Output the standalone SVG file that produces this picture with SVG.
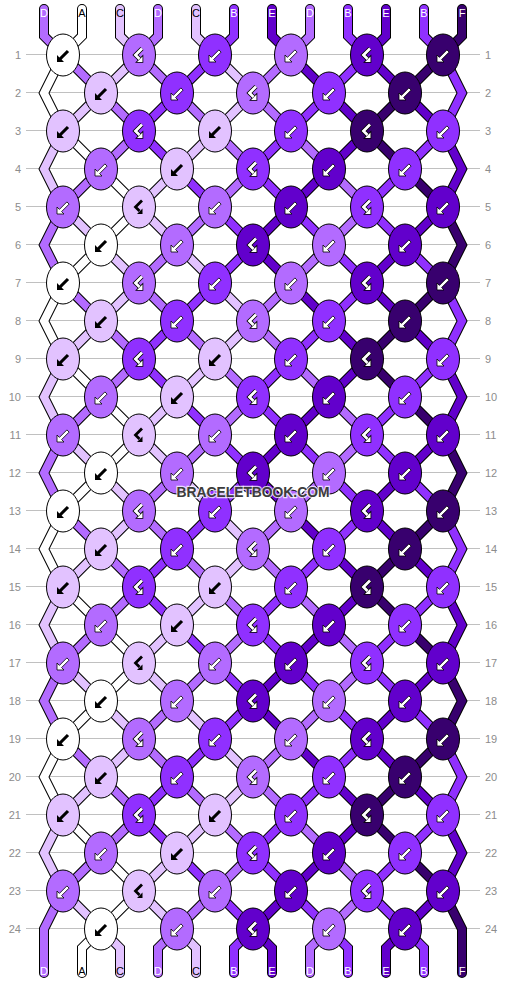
<svg xmlns="http://www.w3.org/2000/svg" xmlns:xlink="http://www.w3.org/1999/xlink" width="506" height="984" viewBox="0 0 506 984">
<style>
.cA{fill:#ffffff}.cC{fill:#e2c2ff}.cD{fill:#b36bff}.cB{fill:#9030ff}.cE{fill:#6200cc}.cF{fill:#38006e}
.sA{stroke:#ffffff}.sC{stroke:#e2c2ff}.sD{stroke:#b36bff}.sB{stroke:#9030ff}.sE{stroke:#6200cc}.sF{stroke:#38006e}
ellipse{stroke:#000;stroke-width:1}
#knots ellipse{rx:16.5px;ry:21px}
.grid line{stroke:#c0c0c0;stroke-width:1}
.rn{font-family:"Liberation Sans",Arial,sans-serif;font-size:11px;fill:#8c8c8c}
.lb{font-family:"Liberation Sans",Arial,sans-serif;font-size:11px;text-anchor:middle}
.out{fill:none;stroke:#000;stroke-width:10;stroke-linecap:round;stroke-linejoin:miter}
.fil{fill:none;stroke-width:8;stroke-linecap:round;stroke-linejoin:miter}
</style>
<defs>
<path id="p0" d="M44,9V36L63,55l38,38l38,38l-38,38l-38,38l-19,38l19,38l38,38l38,38l-38,38l-38,38l-19,38l19,38l38,38l38,38l-38,38l-38,38l-19,38l19,38l38,38l38,38l-38,38l-38,38l-19,38L44,948V973"/>
<path id="p1" d="M82,9V36L63,55l-19,38l19,38l38,38l38,38l-38,38l-38,38l-19,38l19,38l38,38l38,38l-38,38l-38,38l-19,38l19,38l38,38l38,38l-38,38l-38,38l-19,38l19,38l38,38l38,38l-38,38L82,948V973"/>
<path id="p2" d="M120,9V36L139,55l-38,38l-38,38l-19,38l19,38l38,38l38,38l-38,38l-38,38l-19,38l19,38l38,38l38,38l-38,38l-38,38l-19,38l19,38l38,38l38,38l-38,38l-38,38l-19,38l19,38l38,38L120,948V973"/>
<path id="p3" d="M158,9V36L139,55l38,38l38,38l38,38l-38,38l-38,38l-38,38l38,38l38,38l38,38l-38,38l-38,38l-38,38l38,38l38,38l38,38l-38,38l-38,38l-38,38l38,38l38,38l38,38l-38,38l-38,38L158,948V973"/>
<path id="p4" d="M196,9V36L215,55l38,38l-38,38l-38,38l-38,38l38,38l38,38l38,38l-38,38l-38,38l-38,38l38,38l38,38l38,38l-38,38l-38,38l-38,38l38,38l38,38l38,38l-38,38l-38,38l-38,38l38,38L196,948V973"/>
<path id="p5" d="M234,9V36L215,55l-38,38l-38,38l38,38l38,38l38,38l-38,38l-38,38l-38,38l38,38l38,38l38,38l-38,38l-38,38l-38,38l38,38l38,38l38,38l-38,38l-38,38l-38,38l38,38l38,38l38,38L234,948V973"/>
<path id="p6" d="M272,9V36L291,55l38,38l38,38l-38,38l-38,38l-38,38l38,38l38,38l38,38l-38,38l-38,38l-38,38l38,38l38,38l38,38l-38,38l-38,38l-38,38l38,38l38,38l38,38l-38,38l-38,38l-38,38L272,948V973"/>
<path id="p7" d="M310,9V36L291,55l-38,38l38,38l38,38l38,38l-38,38l-38,38l-38,38l38,38l38,38l38,38l-38,38l-38,38l-38,38l38,38l38,38l38,38l-38,38l-38,38l-38,38l38,38l38,38l38,38l-38,38L310,948V973"/>
<path id="p8" d="M348,9V36L367,55l-38,38l-38,38l-38,38l38,38l38,38l38,38l-38,38l-38,38l-38,38l38,38l38,38l38,38l-38,38l-38,38l-38,38l38,38l38,38l38,38l-38,38l-38,38l-38,38l38,38l38,38L348,948V973"/>
<path id="p9" d="M386,9V36L367,55l38,38l38,38l19,38l-19,38l-38,38l-38,38l38,38l38,38l19,38l-19,38l-38,38l-38,38l38,38l38,38l19,38l-19,38l-38,38l-38,38l38,38l38,38l19,38l-19,38l-38,38L386,948V973"/>
<path id="p10" d="M424,9V36L443,55l19,38l-19,38l-38,38l-38,38l38,38l38,38l19,38l-19,38l-38,38l-38,38l38,38l38,38l19,38l-19,38l-38,38l-38,38l38,38l38,38l19,38l-19,38l-38,38l-38,38l38,38L424,948V973"/>
<path id="p11" d="M462,9V36L443,55l-38,38l-38,38l38,38l38,38l19,38l-19,38l-38,38l-38,38l38,38l38,38l19,38l-19,38l-38,38l-38,38l38,38l38,38l19,38l-19,38l-38,38l-38,38l38,38l38,38l19,38L462,948V973"/>
<polygon id="sb" points="-6,7 -6,0 -3.6,2.4 3.9,-5.1 6.1,-2.9 -1.4,4.6 1,7" fill="#000"/>
<polygon id="sw" points="-6,7 -6,0 -3.6,2.4 3.9,-5.1 6.1,-2.9 -1.4,4.6 1,7" fill="#fff" stroke="#000" stroke-width="0.8"/>
<g id="hb">
<path d="M3,-6.5L-3.5,0L0.5,4" fill="none" stroke="#000" stroke-width="2.8" stroke-linejoin="miter"/>
<polygon points="3.5,7 3.5,1.5 -2,7" fill="#000"/>
</g>
<g id="hw">
<path d="M3,-6.5L-3.5,0L0.5,4" fill="none" stroke="#000" stroke-width="4.4" stroke-linejoin="miter"/>
<polygon points="3.5,7 3.5,1.5 -2,7" fill="#000" stroke="#000" stroke-width="1.6"/>
<path d="M3,-6.5L-3.5,0L0.5,4" fill="none" stroke="#fff" stroke-width="2.8" stroke-linejoin="miter"/>
<polygon points="3.5,7 3.5,1.5 -2,7" fill="#fff"/>
</g>
</defs>
<rect width="506" height="984" fill="#fff"/>
<g class="grid">
<line x1="26" x2="480" y1="54.5" y2="54.5"/><line x1="26" x2="480" y1="92.5" y2="92.5"/><line x1="26" x2="480" y1="130.5" y2="130.5"/><line x1="26" x2="480" y1="168.5" y2="168.5"/><line x1="26" x2="480" y1="206.5" y2="206.5"/><line x1="26" x2="480" y1="244.5" y2="244.5"/><line x1="26" x2="480" y1="282.5" y2="282.5"/><line x1="26" x2="480" y1="320.5" y2="320.5"/><line x1="26" x2="480" y1="358.5" y2="358.5"/><line x1="26" x2="480" y1="396.5" y2="396.5"/><line x1="26" x2="480" y1="434.5" y2="434.5"/><line x1="26" x2="480" y1="472.5" y2="472.5"/><line x1="26" x2="480" y1="510.5" y2="510.5"/><line x1="26" x2="480" y1="548.5" y2="548.5"/><line x1="26" x2="480" y1="586.5" y2="586.5"/><line x1="26" x2="480" y1="624.5" y2="624.5"/><line x1="26" x2="480" y1="662.5" y2="662.5"/><line x1="26" x2="480" y1="700.5" y2="700.5"/><line x1="26" x2="480" y1="738.5" y2="738.5"/><line x1="26" x2="480" y1="776.5" y2="776.5"/><line x1="26" x2="480" y1="814.5" y2="814.5"/><line x1="26" x2="480" y1="852.5" y2="852.5"/><line x1="26" x2="480" y1="890.5" y2="890.5"/><line x1="26" x2="480" y1="928.5" y2="928.5"/>
</g>
<g id="row-numbers">
<text class="rn" text-anchor="end" x="21" y="58.5">1</text><text class="rn" text-anchor="end" x="21" y="96.5">2</text><text class="rn" text-anchor="end" x="21" y="134.5">3</text><text class="rn" text-anchor="end" x="21" y="172.5">4</text><text class="rn" text-anchor="end" x="21" y="210.5">5</text><text class="rn" text-anchor="end" x="21" y="248.5">6</text><text class="rn" text-anchor="end" x="21" y="286.5">7</text><text class="rn" text-anchor="end" x="21" y="324.5">8</text><text class="rn" text-anchor="end" x="21" y="362.5">9</text><text class="rn" text-anchor="end" x="21" y="400.5">10</text><text class="rn" text-anchor="end" x="21" y="438.5">11</text><text class="rn" text-anchor="end" x="21" y="476.5">12</text><text class="rn" text-anchor="end" x="21" y="514.5">13</text><text class="rn" text-anchor="end" x="21" y="552.5">14</text><text class="rn" text-anchor="end" x="21" y="590.5">15</text><text class="rn" text-anchor="end" x="21" y="628.5">16</text><text class="rn" text-anchor="end" x="21" y="666.5">17</text><text class="rn" text-anchor="end" x="21" y="704.5">18</text><text class="rn" text-anchor="end" x="21" y="742.5">19</text><text class="rn" text-anchor="end" x="21" y="780.5">20</text><text class="rn" text-anchor="end" x="21" y="818.5">21</text><text class="rn" text-anchor="end" x="21" y="856.5">22</text><text class="rn" text-anchor="end" x="21" y="894.5">23</text><text class="rn" text-anchor="end" x="21" y="932.5">24</text>
<text class="rn" x="485" y="58.5">1</text><text class="rn" x="485" y="96.5">2</text><text class="rn" x="485" y="134.5">3</text><text class="rn" x="485" y="172.5">4</text><text class="rn" x="485" y="210.5">5</text><text class="rn" x="485" y="248.5">6</text><text class="rn" x="485" y="286.5">7</text><text class="rn" x="485" y="324.5">8</text><text class="rn" x="485" y="362.5">9</text><text class="rn" x="485" y="400.5">10</text><text class="rn" x="485" y="438.5">11</text><text class="rn" x="485" y="476.5">12</text><text class="rn" x="485" y="514.5">13</text><text class="rn" x="485" y="552.5">14</text><text class="rn" x="485" y="590.5">15</text><text class="rn" x="485" y="628.5">16</text><text class="rn" x="485" y="666.5">17</text><text class="rn" x="485" y="704.5">18</text><text class="rn" x="485" y="742.5">19</text><text class="rn" x="485" y="780.5">20</text><text class="rn" x="485" y="818.5">21</text><text class="rn" x="485" y="856.5">22</text><text class="rn" x="485" y="894.5">23</text><text class="rn" x="485" y="932.5">24</text>
</g>
<g id="connectors">
<g class="out">
<use href="#p0"/><use href="#p1"/><use href="#p2"/><use href="#p3"/><use href="#p4"/><use href="#p5"/><use href="#p6"/><use href="#p7"/><use href="#p8"/><use href="#p9"/><use href="#p10"/><use href="#p11"/>
</g>
<g class="fil">
<use href="#p0" class="sD"/><use href="#p1" class="sA"/><use href="#p2" class="sC"/><use href="#p3" class="sD"/><use href="#p4" class="sC"/><use href="#p5" class="sB"/><use href="#p6" class="sE"/><use href="#p7" class="sD"/><use href="#p8" class="sB"/><use href="#p9" class="sE"/><use href="#p10" class="sB"/><use href="#p11" class="sF"/>
</g>
</g>
<g id="string-labels">
<text class="lb" x="44" y="17" fill="#fff">D</text><text class="lb" x="82" y="17" fill="#000">A</text><text class="lb" x="120" y="17" fill="#000">C</text><text class="lb" x="158" y="17" fill="#fff">D</text><text class="lb" x="196" y="17" fill="#000">C</text><text class="lb" x="234" y="17" fill="#fff">B</text><text class="lb" x="272" y="17" fill="#fff">E</text><text class="lb" x="310" y="17" fill="#fff">D</text><text class="lb" x="348" y="17" fill="#fff">B</text><text class="lb" x="386" y="17" fill="#fff">E</text><text class="lb" x="424" y="17" fill="#fff">B</text><text class="lb" x="462" y="17" fill="#fff">F</text>
<text class="lb" x="44" y="975" fill="#fff">D</text><text class="lb" x="82" y="975" fill="#000">A</text><text class="lb" x="120" y="975" fill="#000">C</text><text class="lb" x="158" y="975" fill="#fff">D</text><text class="lb" x="196" y="975" fill="#000">C</text><text class="lb" x="234" y="975" fill="#fff">B</text><text class="lb" x="272" y="975" fill="#fff">E</text><text class="lb" x="310" y="975" fill="#fff">D</text><text class="lb" x="348" y="975" fill="#fff">B</text><text class="lb" x="386" y="975" fill="#fff">E</text><text class="lb" x="424" y="975" fill="#fff">B</text><text class="lb" x="462" y="975" fill="#fff">F</text>
</g>
<g id="knots">
<g id="k1-1"><ellipse class="cA" cx="63" cy="55"/><use href="#sb" x="63" y="55"/></g>
<g id="k1-2"><ellipse class="cD" cx="139" cy="55"/><use href="#hw" x="139" y="55"/></g>
<g id="k1-3"><ellipse class="cB" cx="215" cy="55"/><use href="#sw" x="215" y="55"/></g>
<g id="k1-4"><ellipse class="cD" cx="291" cy="55"/><use href="#sw" x="291" y="55"/></g>
<g id="k1-5"><ellipse class="cE" cx="367" cy="55"/><use href="#hw" x="367" y="55"/></g>
<g id="k1-6"><ellipse class="cF" cx="443" cy="55"/><use href="#sw" x="443" y="55"/></g>
<g id="k2-1"><ellipse class="cC" cx="101" cy="93"/><use href="#sb" x="101" y="93"/></g>
<g id="k2-2"><ellipse class="cB" cx="177" cy="93"/><use href="#sw" x="177" y="93"/></g>
<g id="k2-3"><ellipse class="cD" cx="253" cy="93"/><use href="#hw" x="253" y="93"/></g>
<g id="k2-4"><ellipse class="cB" cx="329" cy="93"/><use href="#sw" x="329" y="93"/></g>
<g id="k2-5"><ellipse class="cF" cx="405" cy="93"/><use href="#sw" x="405" y="93"/></g>
<g id="k3-1"><ellipse class="cC" cx="63" cy="131"/><use href="#sb" x="63" y="131"/></g>
<g id="k3-2"><ellipse class="cB" cx="139" cy="131"/><use href="#hw" x="139" y="131"/></g>
<g id="k3-3"><ellipse class="cC" cx="215" cy="131"/><use href="#sb" x="215" y="131"/></g>
<g id="k3-4"><ellipse class="cB" cx="291" cy="131"/><use href="#sw" x="291" y="131"/></g>
<g id="k3-5"><ellipse class="cF" cx="367" cy="131"/><use href="#hw" x="367" y="131"/></g>
<g id="k3-6"><ellipse class="cB" cx="443" cy="131"/><use href="#sw" x="443" y="131"/></g>
<g id="k4-1"><ellipse class="cD" cx="101" cy="169"/><use href="#sw" x="101" y="169"/></g>
<g id="k4-2"><ellipse class="cC" cx="177" cy="169"/><use href="#sb" x="177" y="169"/></g>
<g id="k4-3"><ellipse class="cB" cx="253" cy="169"/><use href="#hw" x="253" y="169"/></g>
<g id="k4-4"><ellipse class="cE" cx="329" cy="169"/><use href="#sw" x="329" y="169"/></g>
<g id="k4-5"><ellipse class="cB" cx="405" cy="169"/><use href="#sw" x="405" y="169"/></g>
<g id="k5-1"><ellipse class="cD" cx="63" cy="207"/><use href="#sw" x="63" y="207"/></g>
<g id="k5-2"><ellipse class="cC" cx="139" cy="207"/><use href="#hb" x="139" y="207"/></g>
<g id="k5-3"><ellipse class="cD" cx="215" cy="207"/><use href="#sw" x="215" y="207"/></g>
<g id="k5-4"><ellipse class="cE" cx="291" cy="207"/><use href="#sw" x="291" y="207"/></g>
<g id="k5-5"><ellipse class="cB" cx="367" cy="207"/><use href="#hw" x="367" y="207"/></g>
<g id="k5-6"><ellipse class="cE" cx="443" cy="207"/><use href="#sw" x="443" y="207"/></g>
<g id="k6-1"><ellipse class="cA" cx="101" cy="245"/><use href="#sb" x="101" y="245"/></g>
<g id="k6-2"><ellipse class="cD" cx="177" cy="245"/><use href="#sw" x="177" y="245"/></g>
<g id="k6-3"><ellipse class="cE" cx="253" cy="245"/><use href="#hw" x="253" y="245"/></g>
<g id="k6-4"><ellipse class="cD" cx="329" cy="245"/><use href="#sw" x="329" y="245"/></g>
<g id="k6-5"><ellipse class="cE" cx="405" cy="245"/><use href="#sw" x="405" y="245"/></g>
<g id="k7-1"><ellipse class="cA" cx="63" cy="283"/><use href="#sb" x="63" y="283"/></g>
<g id="k7-2"><ellipse class="cD" cx="139" cy="283"/><use href="#hw" x="139" y="283"/></g>
<g id="k7-3"><ellipse class="cB" cx="215" cy="283"/><use href="#sw" x="215" y="283"/></g>
<g id="k7-4"><ellipse class="cD" cx="291" cy="283"/><use href="#sw" x="291" y="283"/></g>
<g id="k7-5"><ellipse class="cE" cx="367" cy="283"/><use href="#hw" x="367" y="283"/></g>
<g id="k7-6"><ellipse class="cF" cx="443" cy="283"/><use href="#sw" x="443" y="283"/></g>
<g id="k8-1"><ellipse class="cC" cx="101" cy="321"/><use href="#sb" x="101" y="321"/></g>
<g id="k8-2"><ellipse class="cB" cx="177" cy="321"/><use href="#sw" x="177" y="321"/></g>
<g id="k8-3"><ellipse class="cD" cx="253" cy="321"/><use href="#hw" x="253" y="321"/></g>
<g id="k8-4"><ellipse class="cB" cx="329" cy="321"/><use href="#sw" x="329" y="321"/></g>
<g id="k8-5"><ellipse class="cF" cx="405" cy="321"/><use href="#sw" x="405" y="321"/></g>
<g id="k9-1"><ellipse class="cC" cx="63" cy="359"/><use href="#sb" x="63" y="359"/></g>
<g id="k9-2"><ellipse class="cB" cx="139" cy="359"/><use href="#hw" x="139" y="359"/></g>
<g id="k9-3"><ellipse class="cC" cx="215" cy="359"/><use href="#sb" x="215" y="359"/></g>
<g id="k9-4"><ellipse class="cB" cx="291" cy="359"/><use href="#sw" x="291" y="359"/></g>
<g id="k9-5"><ellipse class="cF" cx="367" cy="359"/><use href="#hw" x="367" y="359"/></g>
<g id="k9-6"><ellipse class="cB" cx="443" cy="359"/><use href="#sw" x="443" y="359"/></g>
<g id="k10-1"><ellipse class="cD" cx="101" cy="397"/><use href="#sw" x="101" y="397"/></g>
<g id="k10-2"><ellipse class="cC" cx="177" cy="397"/><use href="#sb" x="177" y="397"/></g>
<g id="k10-3"><ellipse class="cB" cx="253" cy="397"/><use href="#hw" x="253" y="397"/></g>
<g id="k10-4"><ellipse class="cE" cx="329" cy="397"/><use href="#sw" x="329" y="397"/></g>
<g id="k10-5"><ellipse class="cB" cx="405" cy="397"/><use href="#sw" x="405" y="397"/></g>
<g id="k11-1"><ellipse class="cD" cx="63" cy="435"/><use href="#sw" x="63" y="435"/></g>
<g id="k11-2"><ellipse class="cC" cx="139" cy="435"/><use href="#hb" x="139" y="435"/></g>
<g id="k11-3"><ellipse class="cD" cx="215" cy="435"/><use href="#sw" x="215" y="435"/></g>
<g id="k11-4"><ellipse class="cE" cx="291" cy="435"/><use href="#sw" x="291" y="435"/></g>
<g id="k11-5"><ellipse class="cB" cx="367" cy="435"/><use href="#hw" x="367" y="435"/></g>
<g id="k11-6"><ellipse class="cE" cx="443" cy="435"/><use href="#sw" x="443" y="435"/></g>
<g id="k12-1"><ellipse class="cA" cx="101" cy="473"/><use href="#sb" x="101" y="473"/></g>
<g id="k12-2"><ellipse class="cD" cx="177" cy="473"/><use href="#sw" x="177" y="473"/></g>
<g id="k12-3"><ellipse class="cE" cx="253" cy="473"/><use href="#hw" x="253" y="473"/></g>
<g id="k12-4"><ellipse class="cD" cx="329" cy="473"/><use href="#sw" x="329" y="473"/></g>
<g id="k12-5"><ellipse class="cE" cx="405" cy="473"/><use href="#sw" x="405" y="473"/></g>
<g id="k13-1"><ellipse class="cA" cx="63" cy="511"/><use href="#sb" x="63" y="511"/></g>
<g id="k13-2"><ellipse class="cD" cx="139" cy="511"/><use href="#hw" x="139" y="511"/></g>
<g id="k13-3"><ellipse class="cB" cx="215" cy="511"/><use href="#sw" x="215" y="511"/></g>
<g id="k13-4"><ellipse class="cD" cx="291" cy="511"/><use href="#sw" x="291" y="511"/></g>
<g id="k13-5"><ellipse class="cE" cx="367" cy="511"/><use href="#hw" x="367" y="511"/></g>
<g id="k13-6"><ellipse class="cF" cx="443" cy="511"/><use href="#sw" x="443" y="511"/></g>
<g id="k14-1"><ellipse class="cC" cx="101" cy="549"/><use href="#sb" x="101" y="549"/></g>
<g id="k14-2"><ellipse class="cB" cx="177" cy="549"/><use href="#sw" x="177" y="549"/></g>
<g id="k14-3"><ellipse class="cD" cx="253" cy="549"/><use href="#hw" x="253" y="549"/></g>
<g id="k14-4"><ellipse class="cB" cx="329" cy="549"/><use href="#sw" x="329" y="549"/></g>
<g id="k14-5"><ellipse class="cF" cx="405" cy="549"/><use href="#sw" x="405" y="549"/></g>
<g id="k15-1"><ellipse class="cC" cx="63" cy="587"/><use href="#sb" x="63" y="587"/></g>
<g id="k15-2"><ellipse class="cB" cx="139" cy="587"/><use href="#hw" x="139" y="587"/></g>
<g id="k15-3"><ellipse class="cC" cx="215" cy="587"/><use href="#sb" x="215" y="587"/></g>
<g id="k15-4"><ellipse class="cB" cx="291" cy="587"/><use href="#sw" x="291" y="587"/></g>
<g id="k15-5"><ellipse class="cF" cx="367" cy="587"/><use href="#hw" x="367" y="587"/></g>
<g id="k15-6"><ellipse class="cB" cx="443" cy="587"/><use href="#sw" x="443" y="587"/></g>
<g id="k16-1"><ellipse class="cD" cx="101" cy="625"/><use href="#sw" x="101" y="625"/></g>
<g id="k16-2"><ellipse class="cC" cx="177" cy="625"/><use href="#sb" x="177" y="625"/></g>
<g id="k16-3"><ellipse class="cB" cx="253" cy="625"/><use href="#hw" x="253" y="625"/></g>
<g id="k16-4"><ellipse class="cE" cx="329" cy="625"/><use href="#sw" x="329" y="625"/></g>
<g id="k16-5"><ellipse class="cB" cx="405" cy="625"/><use href="#sw" x="405" y="625"/></g>
<g id="k17-1"><ellipse class="cD" cx="63" cy="663"/><use href="#sw" x="63" y="663"/></g>
<g id="k17-2"><ellipse class="cC" cx="139" cy="663"/><use href="#hb" x="139" y="663"/></g>
<g id="k17-3"><ellipse class="cD" cx="215" cy="663"/><use href="#sw" x="215" y="663"/></g>
<g id="k17-4"><ellipse class="cE" cx="291" cy="663"/><use href="#sw" x="291" y="663"/></g>
<g id="k17-5"><ellipse class="cB" cx="367" cy="663"/><use href="#hw" x="367" y="663"/></g>
<g id="k17-6"><ellipse class="cE" cx="443" cy="663"/><use href="#sw" x="443" y="663"/></g>
<g id="k18-1"><ellipse class="cA" cx="101" cy="701"/><use href="#sb" x="101" y="701"/></g>
<g id="k18-2"><ellipse class="cD" cx="177" cy="701"/><use href="#sw" x="177" y="701"/></g>
<g id="k18-3"><ellipse class="cE" cx="253" cy="701"/><use href="#hw" x="253" y="701"/></g>
<g id="k18-4"><ellipse class="cD" cx="329" cy="701"/><use href="#sw" x="329" y="701"/></g>
<g id="k18-5"><ellipse class="cE" cx="405" cy="701"/><use href="#sw" x="405" y="701"/></g>
<g id="k19-1"><ellipse class="cA" cx="63" cy="739"/><use href="#sb" x="63" y="739"/></g>
<g id="k19-2"><ellipse class="cD" cx="139" cy="739"/><use href="#hw" x="139" y="739"/></g>
<g id="k19-3"><ellipse class="cB" cx="215" cy="739"/><use href="#sw" x="215" y="739"/></g>
<g id="k19-4"><ellipse class="cD" cx="291" cy="739"/><use href="#sw" x="291" y="739"/></g>
<g id="k19-5"><ellipse class="cE" cx="367" cy="739"/><use href="#hw" x="367" y="739"/></g>
<g id="k19-6"><ellipse class="cF" cx="443" cy="739"/><use href="#sw" x="443" y="739"/></g>
<g id="k20-1"><ellipse class="cC" cx="101" cy="777"/><use href="#sb" x="101" y="777"/></g>
<g id="k20-2"><ellipse class="cB" cx="177" cy="777"/><use href="#sw" x="177" y="777"/></g>
<g id="k20-3"><ellipse class="cD" cx="253" cy="777"/><use href="#hw" x="253" y="777"/></g>
<g id="k20-4"><ellipse class="cB" cx="329" cy="777"/><use href="#sw" x="329" y="777"/></g>
<g id="k20-5"><ellipse class="cF" cx="405" cy="777"/><use href="#sw" x="405" y="777"/></g>
<g id="k21-1"><ellipse class="cC" cx="63" cy="815"/><use href="#sb" x="63" y="815"/></g>
<g id="k21-2"><ellipse class="cB" cx="139" cy="815"/><use href="#hw" x="139" y="815"/></g>
<g id="k21-3"><ellipse class="cC" cx="215" cy="815"/><use href="#sb" x="215" y="815"/></g>
<g id="k21-4"><ellipse class="cB" cx="291" cy="815"/><use href="#sw" x="291" y="815"/></g>
<g id="k21-5"><ellipse class="cF" cx="367" cy="815"/><use href="#hw" x="367" y="815"/></g>
<g id="k21-6"><ellipse class="cB" cx="443" cy="815"/><use href="#sw" x="443" y="815"/></g>
<g id="k22-1"><ellipse class="cD" cx="101" cy="853"/><use href="#sw" x="101" y="853"/></g>
<g id="k22-2"><ellipse class="cC" cx="177" cy="853"/><use href="#sb" x="177" y="853"/></g>
<g id="k22-3"><ellipse class="cB" cx="253" cy="853"/><use href="#hw" x="253" y="853"/></g>
<g id="k22-4"><ellipse class="cE" cx="329" cy="853"/><use href="#sw" x="329" y="853"/></g>
<g id="k22-5"><ellipse class="cB" cx="405" cy="853"/><use href="#sw" x="405" y="853"/></g>
<g id="k23-1"><ellipse class="cD" cx="63" cy="891"/><use href="#sw" x="63" y="891"/></g>
<g id="k23-2"><ellipse class="cC" cx="139" cy="891"/><use href="#hb" x="139" y="891"/></g>
<g id="k23-3"><ellipse class="cD" cx="215" cy="891"/><use href="#sw" x="215" y="891"/></g>
<g id="k23-4"><ellipse class="cE" cx="291" cy="891"/><use href="#sw" x="291" y="891"/></g>
<g id="k23-5"><ellipse class="cB" cx="367" cy="891"/><use href="#hw" x="367" y="891"/></g>
<g id="k23-6"><ellipse class="cE" cx="443" cy="891"/><use href="#sw" x="443" y="891"/></g>
<g id="k24-1"><ellipse class="cA" cx="101" cy="929"/><use href="#sb" x="101" y="929"/></g>
<g id="k24-2"><ellipse class="cD" cx="177" cy="929"/><use href="#sw" x="177" y="929"/></g>
<g id="k24-3"><ellipse class="cE" cx="253" cy="929"/><use href="#hw" x="253" y="929"/></g>
<g id="k24-4"><ellipse class="cD" cx="329" cy="929"/><use href="#sw" x="329" y="929"/></g>
<g id="k24-5"><ellipse class="cE" cx="405" cy="929"/><use href="#sw" x="405" y="929"/></g>
</g>
<text id="watermark" x="253" y="497" font-family="Liberation Sans, Arial, sans-serif" font-weight="bold" font-size="15" text-anchor="middle" textLength="153" lengthAdjust="spacingAndGlyphs" fill="#3c3c3c" stroke="#ffffff" stroke-width="2.5" stroke-opacity="0.75" paint-order="stroke">BRACELETBOOK.COM</text>
</svg>
